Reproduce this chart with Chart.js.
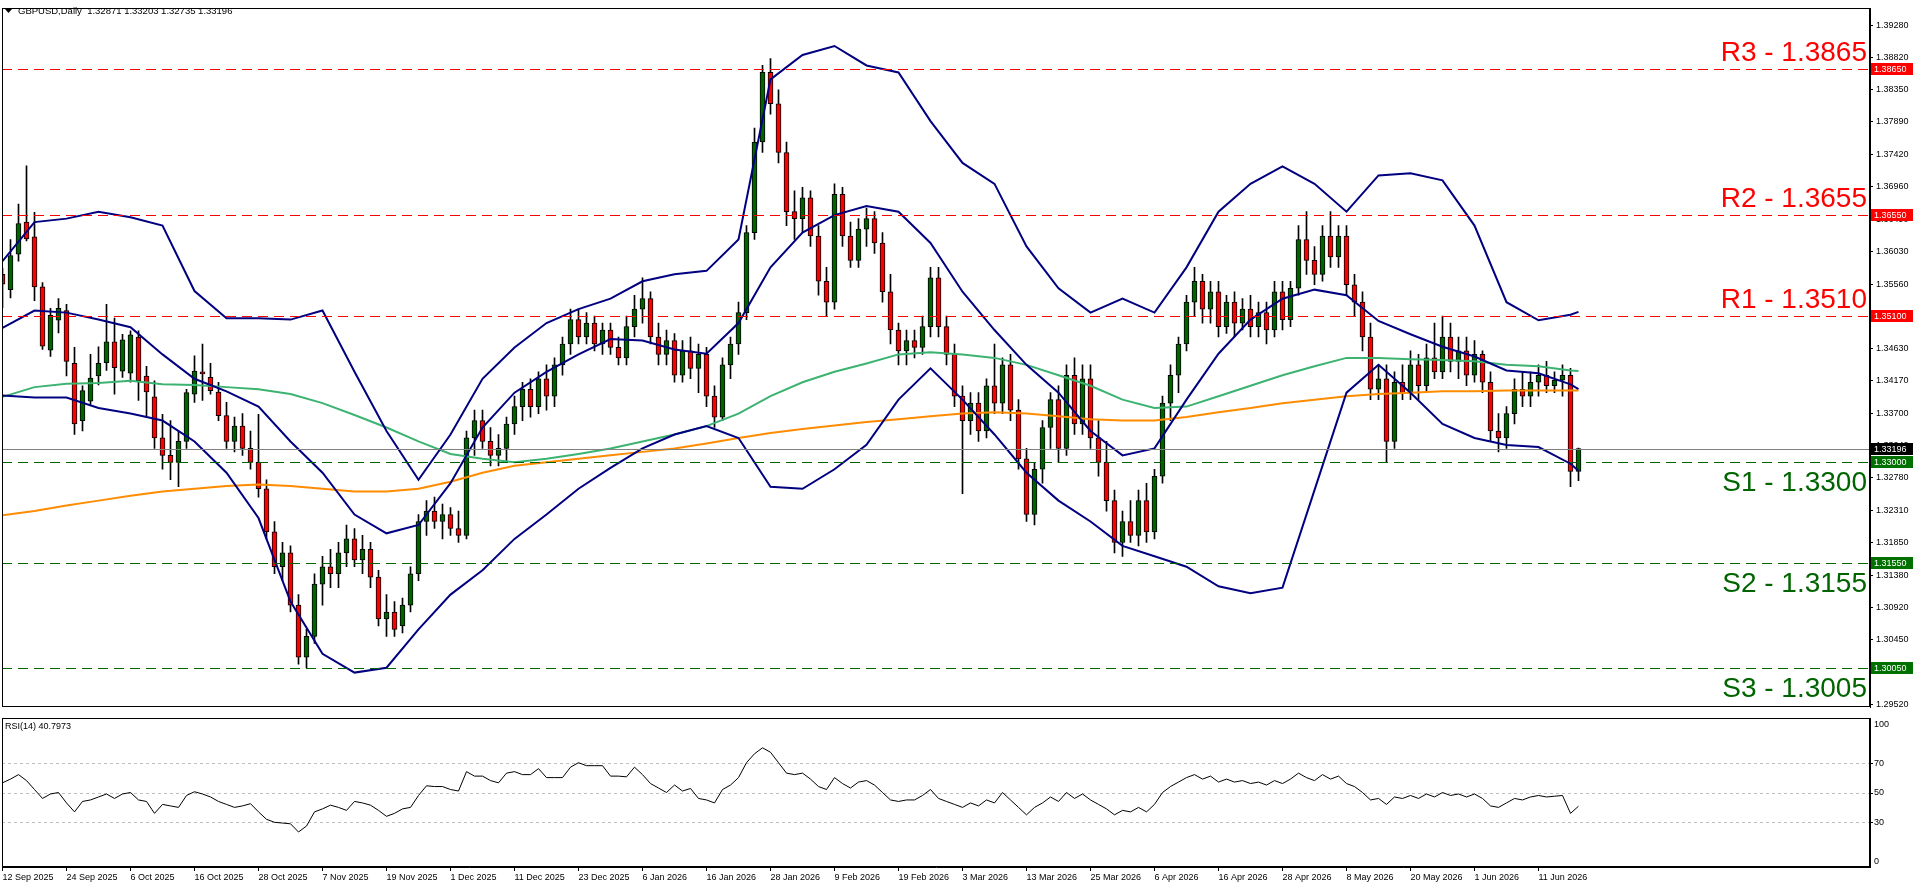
<!DOCTYPE html>
<html>
<head>
<meta charset="utf-8">
<script src="https://cdn.jsdelivr.net/npm/chart.js@4.4.1/dist/chart.umd.min.js"></script>
<style>
  html, body { margin: 0; padding: 0; background: #fff; }
  #wrap { position: relative; width: 1916px; height: 888px; overflow: hidden; }
  canvas { position: absolute; left: 0; }
  #priceChart { top: 0; }
  #rsiChart { top: 716px; }
</style>
</head>
<body>
<div id="wrap">
  <canvas id="priceChart" width="1916" height="716"></canvas>
  <canvas id="rsiChart" width="1916" height="172"></canvas>
</div>
<script>
// GBPUSD daily - candles + bollinger + 2 MA + RSI(14)
const symbol = 'GBPUSD,Daily';

// one label every 8 bars, bar 0 = 12 Sep 2025
const labelEvery = 8;
const dateLabels = [
  '12 Sep 2025', '24 Sep 2025', '6 Oct 2025', '16 Oct 2025', '28 Oct 2025', '7 Nov 2025',
  '19 Nov 2025', '1 Dec 2025', '11 Dec 2025', '23 Dec 2025', '6 Jan 2026', '16 Jan 2026',
  '28 Jan 2026', '9 Feb 2026', '19 Feb 2026', '3 Mar 2026', '13 Mar 2026', '25 Mar 2026',
  '6 Apr 2026', '16 Apr 2026', '28 Apr 2026', '8 May 2026', '20 May 2026', '1 Jun 2026', '11 Jun 2026'
];

const opens = [
  1.3570, 1.3548, 1.3599, 1.3645, 1.3624, 1.3552, 1.3461, 1.3504, 1.3518, 1.3442,
  1.3360, 1.3388, 1.3424, 1.3443, 1.3473, 1.3431, 1.3428, 1.3480, 1.3424, 1.3394,
  1.3335, 1.3310, 1.3300, 1.3330, 1.3398, 1.3430, 1.3422, 1.3401, 1.3367, 1.3330,
  1.3352, 1.3320, 1.3300, 1.3262, 1.3200, 1.3150, 1.3170, 1.3095, 1.3020, 1.3050,
  1.3125, 1.3150, 1.3140, 1.3170, 1.3190, 1.3160, 1.3175, 1.3135, 1.3075, 1.3085,
  1.3065, 1.3095, 1.3140, 1.3215, 1.3230, 1.3215, 1.3225, 1.3205, 1.3195, 1.3335,
  1.3360, 1.3330, 1.3310, 1.3320, 1.3355, 1.3380, 1.3405, 1.3380, 1.3420, 1.3395,
  1.3440, 1.3470, 1.3505, 1.3480, 1.3500, 1.3470, 1.3490, 1.3465, 1.3450, 1.3495,
  1.3520, 1.3535, 1.3480, 1.3455, 1.3475, 1.3425, 1.3460, 1.3435, 1.3455, 1.3395,
  1.3365, 1.3440, 1.3470, 1.3515, 1.3630, 1.3760, 1.3860, 1.3815, 1.3745, 1.3660,
  1.3650, 1.3680, 1.3625, 1.3560, 1.3530, 1.3685, 1.3625, 1.3590, 1.3635, 1.3650,
  1.3615, 1.3545, 1.3490, 1.3460, 1.3475, 1.3465, 1.3495, 1.3565, 1.3495, 1.3455,
  1.3395, 1.3360, 1.3385, 1.3345, 1.3410, 1.3385, 1.3440, 1.3375, 1.3305, 1.3225,
  1.3290, 1.3350, 1.3390, 1.3320, 1.3425, 1.3355, 1.3420, 1.3335, 1.3300, 1.3245,
  1.3185, 1.3215, 1.3195, 1.3245, 1.3200, 1.3280, 1.3385, 1.3425, 1.3470, 1.3530,
  1.3560, 1.3520, 1.3545, 1.3495, 1.3530, 1.3500, 1.3520, 1.3495, 1.3515, 1.3490,
  1.3545, 1.3505, 1.3550, 1.3620, 1.3590, 1.3570, 1.3625, 1.3595, 1.3625, 1.3555,
  1.3530, 1.3480, 1.3405, 1.3420, 1.3330, 1.3415, 1.3400, 1.3440, 1.3410, 1.3450,
  1.3430, 1.3480, 1.3445, 1.3460, 1.3425, 1.3455, 1.3415, 1.3345, 1.3335, 1.3370,
  1.3405, 1.3395, 1.3415, 1.3425, 1.3410, 1.3418, 1.3425, 1.32871
];
const highs = [
  1.3579, 1.3620, 1.3671, 1.3726, 1.3659, 1.3558, 1.3521, 1.3535, 1.3527, 1.3465,
  1.3410, 1.3455, 1.3466, 1.3527, 1.3507, 1.3484, 1.3489, 1.3489, 1.3438, 1.3417,
  1.3369, 1.3360, 1.3345, 1.3405, 1.3453, 1.3470, 1.3442, 1.3415, 1.3386, 1.3365,
  1.3370, 1.3345, 1.3369, 1.3275, 1.3215, 1.3185, 1.3180, 1.3110, 1.3060, 1.3140,
  1.3165, 1.3175, 1.3185, 1.3210, 1.3205, 1.3195, 1.3185, 1.3145, 1.3110, 1.3100,
  1.3105, 1.3150, 1.3225, 1.3245, 1.3250, 1.3240, 1.3235, 1.3230, 1.3345, 1.3375,
  1.3375, 1.3350, 1.3340, 1.3365, 1.3395, 1.3415, 1.3420, 1.3430, 1.3440, 1.3450,
  1.3480, 1.3520, 1.3520, 1.3515, 1.3510, 1.3500, 1.3500, 1.3480, 1.3510, 1.3540,
  1.3565, 1.3545, 1.3500, 1.3490, 1.3485, 1.3475, 1.3480, 1.3470, 1.3465, 1.3410,
  1.3450, 1.3480, 1.3530, 1.3640, 1.3780, 1.3870, 1.3880, 1.3835, 1.3760, 1.3690,
  1.3695, 1.3690, 1.3640, 1.3580, 1.3700, 1.3695, 1.3645, 1.3650, 1.3665, 1.3660,
  1.3630, 1.3570, 1.3500, 1.3490, 1.3490, 1.3510, 1.3580, 1.3580, 1.3510, 1.3470,
  1.3410, 1.3400, 1.3400, 1.3420, 1.3470, 1.3450, 1.3455, 1.3390, 1.3320, 1.3300,
  1.3360, 1.3400, 1.3410, 1.3440, 1.3450, 1.3440, 1.3440, 1.3360, 1.3330, 1.3260,
  1.3230, 1.3245, 1.3260, 1.3270, 1.3290, 1.3395, 1.3440, 1.3480, 1.3540, 1.3580,
  1.3570, 1.3560, 1.3560, 1.3540, 1.3545, 1.3535, 1.3540, 1.3530, 1.3530, 1.3560,
  1.3560, 1.3560, 1.3640, 1.3660, 1.3610, 1.3640, 1.3660, 1.3640, 1.3640, 1.3570,
  1.3545, 1.3500, 1.3440, 1.3440, 1.3430, 1.3440, 1.3460, 1.3455, 1.3470, 1.3500,
  1.3510, 1.3500, 1.3480, 1.3480, 1.3475, 1.3460, 1.3430, 1.3370, 1.3380, 1.3420,
  1.3430, 1.3430, 1.3440, 1.3445, 1.3430, 1.3440, 1.3435, 1.33203
];
const lows = [
  1.3522, 1.3536, 1.3589, 1.3618, 1.3532, 1.3462, 1.3452, 1.3486, 1.3424, 1.3340,
  1.3345, 1.3383, 1.3411, 1.3432, 1.3398, 1.3422, 1.3415, 1.3389, 1.3367, 1.3320,
  1.3290, 1.3275, 1.3265, 1.3320, 1.3386, 1.3389, 1.3398, 1.3360, 1.3320, 1.3315,
  1.3310, 1.3290, 1.3250, 1.3190, 1.3140, 1.3130, 1.3085, 1.3010, 1.3005, 1.3040,
  1.3095, 1.3120, 1.3120, 1.3150, 1.3150, 1.3140, 1.3120, 1.3065, 1.3050, 1.3050,
  1.3055, 1.3085, 1.3130, 1.3195, 1.3205, 1.3190, 1.3195, 1.3185, 1.3190, 1.3310,
  1.3320, 1.3295, 1.3295, 1.3300, 1.3340, 1.3360, 1.3365, 1.3370, 1.3375, 1.3380,
  1.3425, 1.3455, 1.3470, 1.3470, 1.3460, 1.3455, 1.3455, 1.3440, 1.3440, 1.3480,
  1.3500, 1.3470, 1.3440, 1.3440, 1.3415, 1.3415, 1.3420, 1.3400, 1.3380, 1.3350,
  1.3360, 1.3420, 1.3455, 1.3505, 1.3620, 1.3745, 1.3800, 1.3730, 1.3640, 1.3620,
  1.3630, 1.3610, 1.3540, 1.3510, 1.3520, 1.3610, 1.3580, 1.3580, 1.3610, 1.3600,
  1.3530, 1.3470, 1.3440, 1.3440, 1.3450, 1.3455, 1.3480, 1.3480, 1.3440, 1.3380,
  1.3255, 1.3340, 1.3330, 1.3335, 1.3370, 1.3370, 1.3360, 1.3290, 1.3215, 1.3210,
  1.3270, 1.3320, 1.3300, 1.3310, 1.3340, 1.3340, 1.3320, 1.3280, 1.3230, 1.3170,
  1.3165, 1.3185, 1.3180, 1.3185, 1.3190, 1.3270, 1.3360, 1.3400, 1.3460, 1.3510,
  1.3500, 1.3500, 1.3480, 1.3485, 1.3480, 1.3490, 1.3480, 1.3480, 1.3470, 1.3480,
  1.3490, 1.3495, 1.3540, 1.3570, 1.3555, 1.3560, 1.3580, 1.3580, 1.3540, 1.3510,
  1.3460, 1.3390, 1.3390, 1.3300, 1.3320, 1.3390, 1.3390, 1.3390, 1.3400, 1.3420,
  1.3420, 1.3430, 1.3420, 1.3410, 1.3415, 1.3400, 1.3330, 1.3315, 1.3320, 1.3355,
  1.3380, 1.3380, 1.3395, 1.3400, 1.3400, 1.3395, 1.3265, 1.32735
];
const closes = [
  1.3556, 1.3597, 1.3643, 1.3621, 1.3552, 1.3467, 1.3511, 1.3521, 1.3445, 1.3355,
  1.3403, 1.3421, 1.3442, 1.3473, 1.3436, 1.3476, 1.3483, 1.3417, 1.3401, 1.3335,
  1.3310, 1.3300, 1.3330, 1.3400, 1.3431, 1.3427, 1.3403, 1.3367, 1.3330, 1.3352,
  1.3320, 1.3300, 1.3262, 1.3200, 1.3150, 1.3170, 1.3095, 1.3020, 1.3050, 1.3125,
  1.3150, 1.3140, 1.3170, 1.3190, 1.3160, 1.3175, 1.3135, 1.3075, 1.3085, 1.3060,
  1.3095, 1.3140, 1.3215, 1.3230, 1.3215, 1.3225, 1.3205, 1.3195, 1.3335, 1.3360,
  1.3330, 1.3310, 1.3320, 1.3355, 1.3380, 1.3405, 1.3380, 1.3420, 1.3395, 1.3440,
  1.3470, 1.3505, 1.3480, 1.3500, 1.3470, 1.3490, 1.3465, 1.3450, 1.3495, 1.3520,
  1.3535, 1.3480, 1.3455, 1.3475, 1.3425, 1.3460, 1.3435, 1.3455, 1.3395, 1.3365,
  1.3440, 1.3470, 1.3515, 1.3630, 1.3760, 1.3860, 1.3815, 1.3745, 1.3660, 1.3650,
  1.3680, 1.3625, 1.3560, 1.3530, 1.3685, 1.3625, 1.3590, 1.3635, 1.3650, 1.3615,
  1.3545, 1.3490, 1.3460, 1.3475, 1.3465, 1.3495, 1.3565, 1.3495, 1.3455, 1.3395,
  1.3360, 1.3385, 1.3345, 1.3410, 1.3385, 1.3440, 1.3375, 1.3305, 1.3225, 1.3290,
  1.3350, 1.3390, 1.3320, 1.3425, 1.3355, 1.3420, 1.3335, 1.3300, 1.3245, 1.3185,
  1.3215, 1.3195, 1.3245, 1.3200, 1.3280, 1.3385, 1.3425, 1.3470, 1.3530, 1.3560,
  1.3520, 1.3545, 1.3495, 1.3530, 1.3500, 1.3520, 1.3495, 1.3515, 1.3490, 1.3545,
  1.3505, 1.3550, 1.3620, 1.3590, 1.3570, 1.3625, 1.3595, 1.3625, 1.3555, 1.3530,
  1.3480, 1.3405, 1.3420, 1.3330, 1.3415, 1.3400, 1.3440, 1.3410, 1.3450, 1.3430,
  1.3480, 1.3445, 1.3460, 1.3425, 1.3455, 1.3415, 1.3345, 1.3335, 1.3370, 1.3405,
  1.3395, 1.3415, 1.3425, 1.3410, 1.3418, 1.3425, 1.3287, 1.33196
];

// indicator lines, read at these bars
const lineBars = [
  0, 4, 8, 12, 16, 20, 24, 28, 32, 36, 40, 44, 48, 52, 56, 60, 64, 68, 72, 76,
  80, 84, 88, 92, 96, 100, 104, 108, 112, 116, 120, 124, 128, 132, 136, 140, 144, 148, 152, 156,
  160, 164, 168, 172, 176, 180, 184, 188, 192, 196, 197
];
const bbUpper = [
  1.3589, 1.3645, 1.3650, 1.3660, 1.3652, 1.3640, 1.3546, 1.3507, 1.3507, 1.3505,
  1.3518, 1.3430, 1.3345, 1.3275, 1.3340, 1.3420, 1.3465, 1.3500, 1.3520, 1.3535,
  1.3560, 1.3570, 1.3575, 1.3620, 1.3850, 1.3885, 1.3898, 1.3870, 1.3860, 1.3790,
  1.3730, 1.3700, 1.3610, 1.3550, 1.3515, 1.3535, 1.3515, 1.3580, 1.3660, 1.3700,
  1.3725, 1.3700, 1.3660, 1.3712, 1.3715, 1.3705, 1.3640, 1.3530, 1.3504, 1.3512, 1.3516
];
const bbMiddle = [
  1.3493, 1.3518, 1.3515, 1.3505, 1.3494, 1.3455, 1.3420, 1.3402, 1.3380, 1.3330,
  1.3285, 1.3225, 1.3198, 1.3210, 1.3270, 1.3350, 1.3400, 1.3430, 1.3455, 1.3477,
  1.3475, 1.3462, 1.3456, 1.3500, 1.3580, 1.3630, 1.3655, 1.3668, 1.3660, 1.3615,
  1.3545, 1.3490, 1.3440, 1.3400, 1.3345, 1.3310, 1.3320, 1.3390, 1.3456, 1.3505,
  1.3535, 1.3548, 1.3540, 1.3503, 1.3484, 1.3466, 1.3452, 1.3432, 1.3428, 1.3412, 1.3405
];
const bbLower = [
  1.3396, 1.3393, 1.3393, 1.3378, 1.3370, 1.3360, 1.3330, 1.3285, 1.3220, 1.3100,
  1.3025, 1.2998, 1.3005, 1.3060, 1.3110, 1.3145, 1.3190, 1.3225, 1.3262, 1.3292,
  1.3320, 1.3340, 1.3352, 1.3335, 1.3265, 1.3262, 1.3290, 1.3325, 1.3390, 1.3435,
  1.3390, 1.3340, 1.3285, 1.3245, 1.3215, 1.3180, 1.3165, 1.3150, 1.3122, 1.3112,
  1.3120, 1.3260, 1.3400, 1.3440, 1.3400, 1.3355, 1.3335, 1.3325, 1.3322, 1.3298, 1.3288
];
const maGreen = [
  1.3394, 1.3408, 1.3413, 1.3414, 1.3417, 1.3412, 1.3411, 1.3408, 1.3405, 1.3398,
  1.3385, 1.3368, 1.3350, 1.3330, 1.3312, 1.3305, 1.3300, 1.3305, 1.3312, 1.3320,
  1.3330, 1.3340, 1.3352, 1.3370, 1.3395, 1.3415, 1.3430, 1.3442, 1.3455, 1.3458,
  1.3455, 1.3450, 1.3440, 1.3425, 1.3410, 1.3390, 1.3378, 1.3380, 1.3395, 1.3410,
  1.3425, 1.3438, 1.3450, 1.3450, 1.3448, 1.3447, 1.3445, 1.3440, 1.3438, 1.3432, 1.3431
];
const maOrange = [
  1.3224, 1.3230, 1.3238, 1.3245, 1.3252, 1.3258, 1.3262, 1.3266, 1.3268, 1.3266,
  1.3262, 1.3258, 1.3258, 1.3262, 1.3272, 1.3285, 1.3295, 1.3300, 1.3305, 1.3310,
  1.3315, 1.3320, 1.3327, 1.3335, 1.3342, 1.3348, 1.3353, 1.3358, 1.3362, 1.3366,
  1.3370, 1.3372, 1.3370, 1.3366, 1.3362, 1.3360, 1.3360, 1.3365, 1.3372, 1.3378,
  1.3385, 1.3390, 1.3395, 1.3398, 1.3400, 1.3402, 1.3402, 1.3403, 1.3403, 1.3403, 1.3403
];

// RSI(14), one value per bar
const rsiValues = [
  56.5, 59, 62, 58, 52, 46, 49, 50, 43, 37, 44, 45, 47, 49, 46, 49, 50, 45, 44, 36,
  42, 41, 40, 48, 50.5, 49, 47, 44, 42, 40, 41, 42.5, 37, 32, 30, 29.5, 29, 23.5, 27.5, 37,
  39, 41.5, 40, 38, 44, 43, 41.5, 38, 34, 36, 39, 40, 48, 54.5, 54, 54, 52, 51, 64, 61,
  61, 58, 56.5, 63, 64, 62, 62, 66, 60, 60, 60, 67, 70, 68, 68, 68, 61, 61, 60.5, 67,
  62, 56, 53, 50, 55, 51, 52.7, 46, 45, 43, 52, 55, 60, 70, 76, 80, 77, 70, 63, 62,
  63, 59, 54, 52, 60, 56, 53, 57, 58, 55, 50, 45, 44, 45, 45, 48, 52, 46, 44, 42,
  40, 43, 41, 45, 43, 50, 45, 40, 35, 40, 43, 47, 44, 50, 46, 49, 45, 42, 39, 35,
  38, 37, 40, 37, 42, 50, 54, 57, 60, 62, 59, 61, 57, 59, 57, 58, 56, 57, 55, 58,
  56, 59, 63, 60, 58, 62, 59, 61, 56, 54, 50, 45, 46, 42, 47, 46, 48, 46, 49, 47,
  50, 48, 49, 47, 49, 46, 41, 40, 43, 46, 45, 47, 48, 47, 47.5, 48, 36, 40.7973
];
const rsiLevels = [70, 50, 30];
const rsiAxisLabels = [100, 70, 50, 30, 0];

const levelNames = ['R3', 'R2', 'R1', 'S1', 'S2', 'S3'];
const levelValues = [1.3865, 1.3655, 1.3510, 1.3300, 1.3155, 1.3005];

const priceTicks = [
  1.39280, 1.38820, 1.38350, 1.37890, 1.37420, 1.36960, 1.36490, 1.36030, 1.35560, 1.35100, 1.34630,
  1.34170, 1.33700, 1.33240, 1.32780, 1.32310, 1.31850, 1.31380, 1.30920, 1.30450, 1.29990, 1.29520
];

// colours
const BULL = '#006400';
const BEAR = '#ff0000';
const BAND = '#000080';
const MA_FAST = '#3cb371';
const MA_SLOW = '#ff8c00';
const RES = '#ff0000';
const SUP = '#006400';

const FONT = '"Liberation Sans", Arial, sans-serif';
Chart.defaults.font.family = FONT;
Chart.defaults.font.size = 9;
Chart.defaults.color = '#000';

// x range: 8 px per bar, chart area 2..1870
const xMin = -0.0625;
const xMax = xMin + 1868 / 8;
const last = closes.length - 1;

const toLine = arr => arr.map((v, k) => ({ x: lineBars[k], y: v }));

const frame = {
  id: 'frame',
  afterDraw(chart) {
    const { ctx, chartArea: a } = chart;
    ctx.save();
    ctx.strokeStyle = '#000';
    ctx.lineWidth = 1;
    ctx.strokeRect(Math.round(a.left) + 0.5, Math.round(a.top) + 0.5, Math.round(a.right - a.left) - 1, Math.round(a.bottom - a.top) - 1);
    ctx.restore();
  }
};

function axisBox(ctx, x, y, text, bg) {
  ctx.fillStyle = bg;
  ctx.fillRect(x + 1, Math.round(y) - 6, 42, 12);
  ctx.fillStyle = '#fff';
  ctx.textAlign = 'left';
  ctx.textBaseline = 'middle';
  ctx.fillText(text, x + 4, Math.round(y) + 0.5);
}

const priceOverlay = {
  id: 'priceOverlay',
  afterDatasetsDraw(chart) {
    const { ctx, chartArea: a, scales: { y } } = chart;
    ctx.save();
    // current price line
    const cy = Math.round(y.getPixelForValue(closes[last])) + 0.5;
    ctx.strokeStyle = '#808080';
    ctx.lineWidth = 1;
    ctx.beginPath();
    ctx.moveTo(a.left, cy);
    ctx.lineTo(a.right, cy);
    ctx.stroke();
    // support / resistance lines
    ctx.setLineDash([10, 6]);
    levelValues.forEach((v, i) => {
      const ly = Math.round(y.getPixelForValue(v)) + 0.5;
      ctx.strokeStyle = levelNames[i][0] === 'R' ? RES : SUP;
      ctx.beginPath();
      ctx.moveTo(a.left, ly);
      ctx.lineTo(a.right, ly);
      ctx.stroke();
    });
    ctx.setLineDash([]);
    ctx.font = '28px ' + FONT;
    ctx.textAlign = 'right';
    ctx.textBaseline = 'alphabetic';
    levelValues.forEach((v, i) => {
      const ly = y.getPixelForValue(v);
      const isRes = levelNames[i][0] === 'R';
      ctx.fillStyle = isRes ? RES : SUP;
      ctx.fillText(levelNames[i] + ' - ' + v.toFixed(4), a.right - 3, isRes ? ly - 8 : ly + 29);
    });
    // header
    ctx.fillStyle = '#000';
    ctx.beginPath();
    ctx.moveTo(5, 9);
    ctx.lineTo(12, 9);
    ctx.lineTo(8.5, 13);
    ctx.closePath();
    ctx.fill();
    ctx.font = '9.5px ' + FONT;
    ctx.textAlign = 'left';
    ctx.textBaseline = 'middle';
    const head = symbol + '  ' + [opens[last], highs[last], lows[last], closes[last]].map(v => v.toFixed(5)).join(' ');
    ctx.fillText(head, 18, 11.5);
    ctx.restore();
  },
  afterDraw(chart) {
    const { ctx, chartArea: a, scales: { y } } = chart;
    ctx.save();
    ctx.font = '9px ' + FONT;
    levelValues.forEach((v, i) => {
      axisBox(ctx, a.right, y.getPixelForValue(v), v.toFixed(5), levelNames[i][0] === 'R' ? RES : '#007000');
    });
    axisBox(ctx, a.right, y.getPixelForValue(closes[last]), closes[last].toFixed(5), '#000');
    ctx.restore();
  }
};

new Chart(document.getElementById('priceChart'), {
  type: 'bar',
  data: {
    datasets: [
      {
        type: 'line', data: toLine(bbUpper), borderColor: BAND, borderWidth: 2,
        pointRadius: 0, tension: 0, order: 0
      },
      {
        type: 'line', data: toLine(bbMiddle), borderColor: BAND, borderWidth: 2,
        pointRadius: 0, tension: 0, order: 0
      },
      {
        type: 'line', data: toLine(bbLower), borderColor: BAND, borderWidth: 2,
        pointRadius: 0, tension: 0, order: 0
      },
      {
        type: 'line', data: toLine(maGreen), borderColor: MA_FAST, borderWidth: 2,
        pointRadius: 0, tension: 0, order: 0
      },
      {
        type: 'line', data: toLine(maOrange), borderColor: MA_SLOW, borderWidth: 2,
        pointRadius: 0, tension: 0, order: 0
      },
      {
        // bodies
        data: opens.map((o, i) => ({ x: i, y: [o, closes[i]] })),
        backgroundColor: opens.map((o, i) => closes[i] >= o ? BULL : BEAR),
        borderColor: '#000', borderWidth: 1, borderSkipped: false,
        barThickness: 5, grouped: false, order: 1
      },
      {
        // wicks
        data: highs.map((h, i) => ({ x: i, y: [lows[i], h] })),
        backgroundColor: '#000', barThickness: 1, grouped: false, order: 2
      }
    ]
  },
  options: {
    responsive: false,
    animation: false,
    devicePixelRatio: 1,
    events: [],
    layout: { padding: { left: 2, top: 2, right: 0, bottom: 1 } },
    plugins: { legend: { display: false }, tooltip: { enabled: false } },
    scales: {
      x: { type: 'linear', min: xMin, max: xMax, offset: false, display: false },
      y: {
        position: 'right',
        min: 1.3928 - (713 - 17) / 7100,
        max: 1.3928 + 17 / 7100,
        afterBuildTicks: s => { s.ticks = priceTicks.map(v => ({ value: v })); },
        afterFit: s => { s.width = 46; },
        ticks: { autoSkip: false, padding: 3, callback: v => v.toFixed(5) },
        grid: { drawOnChartArea: false, drawTicks: true, tickLength: 3, color: '#000' },
        border: { display: true, color: '#000' }
      }
    }
  },
  plugins: [frame, priceOverlay]
});

const rsiOverlay = {
  id: 'rsiOverlay',
  beforeDatasetsDraw(chart) {
    const { ctx, chartArea: a, scales: { y } } = chart;
    ctx.save();
    ctx.strokeStyle = '#c0c0c0';
    ctx.lineWidth = 1;
    ctx.setLineDash([3, 3]);
    rsiLevels.forEach(v => {
      const ly = Math.round(y.getPixelForValue(v)) + 0.5;
      ctx.beginPath();
      ctx.moveTo(a.left, ly);
      ctx.lineTo(a.right, ly);
      ctx.stroke();
    });
    ctx.restore();
  },
  afterDraw(chart) {
    const { ctx, chartArea: a, scales: { y } } = chart;
    ctx.save();
    ctx.font = '9px ' + FONT;
    ctx.fillStyle = '#000';
    ctx.textAlign = 'left';
    ctx.textBaseline = 'middle';
    ctx.fillText('RSI(14) ' + rsiValues[last].toFixed(4), 5, 11);
    ctx.strokeStyle = '#000';
    rsiAxisLabels.forEach(v => {
      let ly = y.getPixelForValue(v);
      ly = Math.min(Math.max(ly, a.top + 6), a.bottom - 6);
      ctx.fillText(String(v), a.right + 4, ly + 0.5);
      if (v > 0 && v < 100) {
        ctx.beginPath();
        ctx.moveTo(a.right, Math.round(ly) + 0.5);
        ctx.lineTo(a.right + 3, Math.round(ly) + 0.5);
        ctx.stroke();
      }
    });
    ctx.restore();
  }
};

new Chart(document.getElementById('rsiChart'), {
  type: 'line',
  data: {
    datasets: [{
      data: rsiValues.map((v, i) => ({ x: i, y: v })),
      borderColor: '#000', borderWidth: 1, pointRadius: 0, tension: 0
    }]
  },
  options: {
    responsive: false,
    animation: false,
    devicePixelRatio: 1,
    events: [],
    layout: { padding: { left: 2, top: 2, right: 0, bottom: 0 } },
    plugins: { legend: { display: false }, tooltip: { enabled: false } },
    scales: {
      x: {
        type: 'linear', min: xMin, max: xMax, offset: false, position: 'bottom',
        afterBuildTicks: s => { s.ticks = dateLabels.map((_, k) => ({ value: k * labelEvery })); },
        afterFit: s => { s.height = 21; },
        ticks: { autoSkip: false, maxRotation: 0, align: 'start', padding: 1, callback: (v, i) => dateLabels[i] },
        grid: { drawOnChartArea: false, drawTicks: true, tickLength: 4, color: '#000' },
        border: { display: true, color: '#000' }
      },
      y: {
        position: 'right', min: 0, max: 100,
        afterFit: s => { s.width = 46; },
        ticks: { display: false },
        grid: { display: false },
        border: { display: true, color: '#000' }
      }
    }
  },
  plugins: [frame, rsiOverlay]
});
</script>
</body>
</html>
